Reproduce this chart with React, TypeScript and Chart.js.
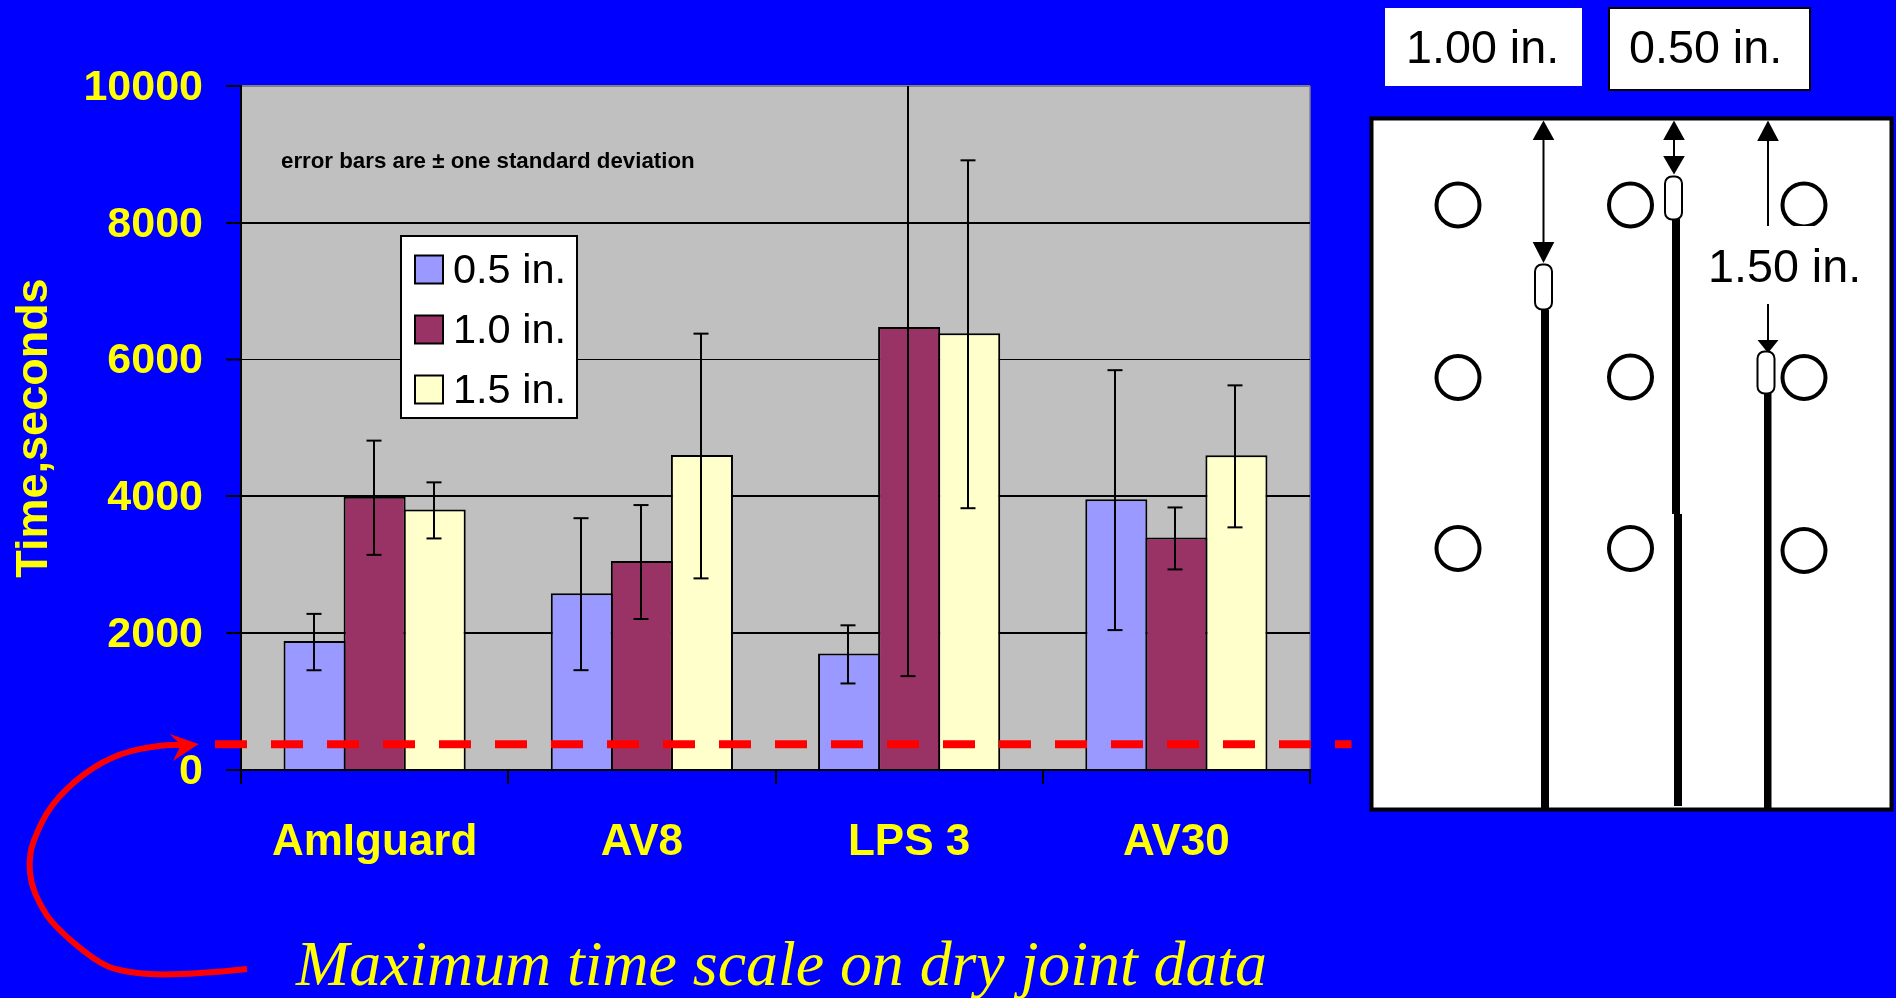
import React, { useEffect, useRef } from "react";
import { Chart, registerables } from "chart.js";

Chart.register(...registerables);

// ---------- data ----------
const categories = ["AmIguard", "AV8", "LPS 3", "AV30"];
const seriesLabels = ["0.5 in.", "1.0 in.", "1.5 in."];
const values05 = [1885, 2585, 1705, 3960];
const values10 = [3995, 3055, 6475, 3400];
const values15 = [3810, 4605, 6385, 4600];
const sd05 = [412, 1111, 425, 1900];
const sd10 = [835, 833, 5088, 453];
const sd15 = [410, 1789, 2543, 1038];
const yMax = 10000;
const yStep = 2000;
const dryJointMax = 375;
const noteText = "error bars are \u00b1 one standard deviation";
const captionText = "Maximum time scale on dry joint data";
const yTitle = "Time,seconds";

// ---------- style ----------
const BLUE = "#0000FF";
const YELLOW = "#FFFF00";
const RED = "#FF0000";
const SANS = '"Liberation Sans", Arial, sans-serif';
const SERIF = '"Liberation Serif", "Times New Roman", serif';

function segment(ctx: CanvasRenderingContext2D, x1: number, y1: number, x2: number, y2: number) {
  ctx.beginPath();
  ctx.moveTo(x1, y1);
  ctx.lineTo(x2, y2);
  ctx.stroke();
}

function head(ctx: CanvasRenderingContext2D, x: number, tip: number, base: number) {
  ctx.beginPath();
  ctx.moveTo(x, tip);
  ctx.lineTo(x - 10.8, base);
  ctx.lineTo(x + 10.8, base);
  ctx.closePath();
  ctx.fill();
}

function pill(ctx: CanvasRenderingContext2D, x: number, y: number, w: number, h: number) {
  ctx.beginPath();
  ctx.roundRect(x, y, w, h, 7);
  ctx.fillStyle = "#FFFFFF";
  ctx.fill();
  ctx.lineWidth = 2;
  ctx.strokeStyle = "#000000";
  ctx.stroke();
}

function drawPanel(ctx: CanvasRenderingContext2D) {
  ctx.save();
  // panel
  ctx.fillStyle = "#FFFFFF";
  ctx.strokeStyle = "#000000";
  ctx.lineWidth = 4;
  ctx.fillRect(1371.5, 118.5, 520, 691);
  ctx.strokeRect(1371.5, 118.5, 520, 691);

  // circles
  const circles: [number, number][] = [
    [1458, 205], [1630.5, 205], [1804, 205],
    [1458, 377.5], [1630.5, 377], [1804, 377.5],
    [1458, 548.5], [1630.5, 548.5], [1804, 550.5],
  ];
  ctx.lineWidth = 4;
  for (const [x, y] of circles) {
    ctx.beginPath();
    ctx.arc(x, y, 21.5, 0, Math.PI * 2);
    ctx.stroke();
  }

  // cracks
  ctx.fillStyle = "#000000";
  ctx.fillRect(1541, 310, 8, 499);
  ctx.fillRect(1672, 219, 8, 295);
  ctx.fillRect(1674, 514, 8, 292);
  ctx.fillRect(1764, 393, 7.5, 416);

  // crack tips
  pill(ctx, 1535, 264.5, 17, 45);
  pill(ctx, 1665, 176.5, 17, 43);

  // white box behind 1.50 in.
  ctx.fillStyle = "#FFFFFF";
  ctx.fillRect(1700, 226, 170, 78);

  // dimension arrows
  ctx.strokeStyle = "#000000";
  ctx.fillStyle = "#000000";
  ctx.lineWidth = 2;
  segment(ctx, 1543.5, 130, 1543.5, 250);
  head(ctx, 1543.5, 120.5, 140);
  head(ctx, 1543.5, 263, 242);
  segment(ctx, 1674, 130, 1674, 165);
  head(ctx, 1674, 120.5, 140);
  head(ctx, 1674, 174.5, 156);
  segment(ctx, 1768, 130, 1768, 226);
  head(ctx, 1768, 120.5, 141);
  segment(ctx, 1768, 304, 1768, 345);
  ctx.beginPath();
  ctx.moveTo(1768, 353);
  ctx.lineTo(1757.5, 340);
  ctx.lineTo(1778.5, 340);
  ctx.closePath();
  ctx.fill();
  pill(ctx, 1757.5, 351.5, 17, 42);

  // top boxes
  ctx.fillStyle = "#FFFFFF";
  ctx.fillRect(1385, 8, 197, 78);
  ctx.fillRect(1609, 8, 201, 82);
  ctx.strokeStyle = "#000000";
  ctx.lineWidth = 2;
  ctx.strokeRect(1609, 8, 201, 82);

  // labels
  ctx.fillStyle = "#000000";
  ctx.font = `46.7px ${SANS}`;
  ctx.textAlign = "left";
  ctx.textBaseline = "alphabetic";
  ctx.fillText("1.00 in.", 1406, 63);
  ctx.fillText("0.50 in.", 1629, 63);
  ctx.fillText("1.50 in.", 1708, 282);
  ctx.restore();
}

function drawCurve(ctx: CanvasRenderingContext2D) {
  const pts: [number, number][] = [
    [247, 969], [178.6, 976], [120.5, 972], [93.8, 960], [53, 925], [39, 903],
    [31, 883], [29, 863], [32, 843], [50, 805], [84, 772.7], [120.5, 752.7],
    [160.7, 745], [183, 745],
  ];
  ctx.save();
  ctx.strokeStyle = RED;
  ctx.fillStyle = RED;
  ctx.lineWidth = 6;
  ctx.lineJoin = "round";
  ctx.beginPath();
  ctx.moveTo(pts[0][0], pts[0][1]);
  for (let i = 1; i < pts.length - 1; i++) {
    const mx = (pts[i][0] + pts[i + 1][0]) / 2;
    const my = (pts[i][1] + pts[i + 1][1]) / 2;
    ctx.quadraticCurveTo(pts[i][0], pts[i][1], mx, my);
  }
  ctx.lineTo(pts[pts.length - 1][0], pts[pts.length - 1][1]);
  ctx.stroke();
  ctx.beginPath();
  ctx.moveTo(198.7, 744);
  ctx.lineTo(169.6, 734);
  ctx.lineTo(181, 745);
  ctx.lineTo(173, 761);
  ctx.closePath();
  ctx.fill();
  ctx.restore();
}

const slidePlugin = {
  id: "slide",
  beforeDraw(chart: any) {
    const { ctx, chartArea: a } = chart;
    ctx.save();
    ctx.fillStyle = BLUE;
    ctx.fillRect(0, 0, chart.width, chart.height);
    ctx.fillStyle = "#C0C0C0";
    ctx.fillRect(a.left, a.top, a.right - a.left, a.bottom - a.top);
    ctx.strokeStyle = "#808080";
    ctx.lineWidth = 1.5;
    segment(ctx, a.right, a.top, a.right, a.bottom);
    ctx.restore();
  },
  afterDatasetsDraw(chart: any) {
    const { ctx, chartArea: a, scales } = chart;
    ctx.save();
    ctx.beginPath();
    ctx.rect(a.left, a.top, a.right - a.left, a.bottom - a.top);
    ctx.clip();
    ctx.strokeStyle = "#000000";
    ctx.lineWidth = 2;
    chart.data.datasets.forEach((ds: any, di: number) => {
      const meta = chart.getDatasetMeta(di);
      meta.data.forEach((bar: any, i: number) => {
        // the bar border sits inside the bar, so its centre line is 1px under the value
        const hi = scales.y.getPixelForValue(ds.data[i] + ds.sd[i]) + 1;
        const lo = scales.y.getPixelForValue(ds.data[i] - ds.sd[i]) + 1;
        const x = Math.round(bar.x) - 1;
        segment(ctx, x, hi, x, lo);
        segment(ctx, x - 7.5, hi, x + 7.5, hi);
        segment(ctx, x - 7.5, lo, x + 7.5, lo);
      });
    });
    ctx.restore();
  },
  afterDraw(chart: any) {
    const { ctx, scales } = chart;
    ctx.save();
    // note
    ctx.fillStyle = "#000000";
    ctx.font = `bold 22.3px ${SANS}`;
    ctx.textAlign = "left";
    ctx.textBaseline = "alphabetic";
    ctx.fillText(noteText, 281, 168);

    // legend
    ctx.fillStyle = "#FFFFFF";
    ctx.strokeStyle = "#000000";
    ctx.lineWidth = 2;
    ctx.fillRect(401, 236, 176, 182);
    ctx.strokeRect(401, 236, 176, 182);
    chart.data.datasets.forEach((ds: any, i: number) => {
      const top = 255.5 + i * 60;
      ctx.fillStyle = ds.backgroundColor;
      ctx.fillRect(415, top, 28, 28);
      ctx.strokeRect(415, top, 28, 28);
      ctx.fillStyle = "#000000";
      ctx.font = `41.5px ${SANS}`;
      ctx.fillText(ds.label, 453, 283 + i * 60);
    });

    // dry joint limit
    const y = scales.y.getPixelForValue(dryJointMax);
    ctx.strokeStyle = RED;
    ctx.lineWidth = 8;
    ctx.setLineDash([32, 24]);
    segment(ctx, 215, y, 1351.5, y);
    ctx.setLineDash([]);

    drawCurve(ctx);

    // caption
    ctx.fillStyle = YELLOW;
    ctx.font = `italic 63.8px ${SERIF}`;
    ctx.textAlign = "left";
    ctx.fillText(captionText, 296, 985);

    drawPanel(ctx);
    ctx.restore();
  },
};

export default function App() {
  const ref = useRef<HTMLCanvasElement | null>(null);
  useEffect(() => {
    document.body.style.margin = "0";
    document.body.style.background = BLUE;
    const chart = new Chart(ref.current as HTMLCanvasElement, {
      type: "bar",
      data: {
        labels: categories,
        datasets: [
          { label: seriesLabels[0], data: values05, sd: sd05, backgroundColor: "#9999FF" },
          { label: seriesLabels[1], data: values10, sd: sd10, backgroundColor: "#993366" },
          { label: seriesLabels[2], data: values15, sd: sd15, backgroundColor: "#FFFFCC" },
        ].map((d) => ({
          ...d,
          borderColor: "#000000",
          borderWidth: 2,
          categoryPercentage: 180 / 267,
          barPercentage: 62 / 60,
        })) as any,
      },
      options: {
        responsive: false,
        animation: false,
        events: [],
        layout: { padding: { top: 86, right: 586, left: 0, bottom: 0 } },
        plugins: { legend: { display: false }, title: { display: false }, tooltip: { enabled: false } },
        scales: {
          x: {
            afterFit: (s: any) => { s.height = 228; },
            grid: {
              offset: true,
              drawOnChartArea: false,
              color: "#000000",
              lineWidth: 2,
              tickLength: 14,
            },
            border: { color: "#000000", width: 2 },
            ticks: { color: YELLOW, padding: 32, font: { family: SANS, size: 44, weight: "bold" }, maxRotation: 0 },
          },
          y: {
            min: 0,
            max: yMax,
            afterFit: (s: any) => { s.width = 241; },
            grid: {
              color: (c: any) => (c.tick && c.tick.value === yMax ? "#808080" : "#000000"),
              lineWidth: (c: any) => (c.tick && c.tick.value === 6000 ? 1 : 2),
              tickColor: "#000000",
              tickWidth: 2,
              tickLength: 15,
            },
            border: { color: "#000000", width: 2 },
            title: {
              display: true,
              text: yTitle,
              color: YELLOW,
              font: { family: SANS, size: 45, weight: "bold" },
              padding: { top: 8, bottom: 0 },
            },
            ticks: {
              stepSize: yStep,
              color: YELLOW,
              padding: 23,
              labelOffset: 2,
              callback: (v: any) => String(v),
              font: { family: SANS, size: 43, weight: "bold" },
            },
          },
        },
      },
      plugins: [slidePlugin as any],
    });
    return () => chart.destroy();
  }, []);
  return <canvas ref={ref} width={1896} height={998} style={{ display: "block" }} />;
}
